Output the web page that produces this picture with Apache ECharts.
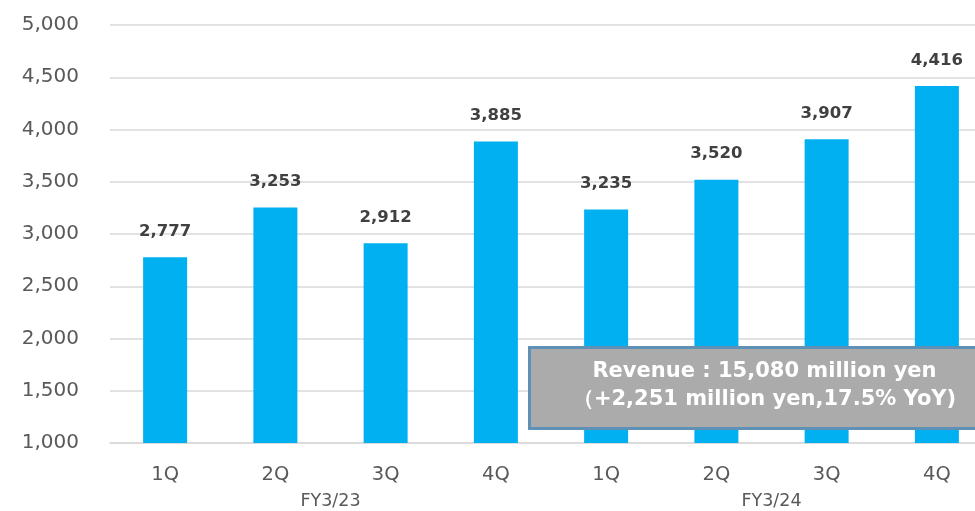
<!DOCTYPE html>
<html>
<head>
<meta charset="utf-8">
<script src="https://cdn.jsdelivr.net/npm/echarts@6/dist/echarts.min.js"></script>
<style>
  html, body { margin: 0; padding: 0; background: #fff; }
  #chart { width: 975px; height: 511px; }
</style>
</head>
<body>
<div id="chart"></div>
<script>
// Quarterly revenue (million yen)
const quarters = ['1Q', '2Q', '3Q', '4Q', '1Q', '2Q', '3Q', '4Q'];
const fiscalYears = ['FY3/23', 'FY3/24'];
const revenue = [2777, 3253, 2912, 3885, 3235, 3520, 3907, 4416];
const yTicks = { min: 1000, max: 5000, step: 500 };
const summaryLines = ['Revenue : 15,080 million yen', '（+2,251 million yen,17.5% YoY)'];

const FONT = '"DejaVu Sans", Verdana, sans-serif';
const chart = echarts.init(document.getElementById('chart'));

chart.setOption({
  animation: false,
  backgroundColor: '#ffffff',
  // plot area runs a little past the right edge of the canvas
  grid: { left: 110, width: 882, top: 25, bottom: 68, outerBoundsMode: 'none', containLabel: false },
  xAxis: [
    {
      type: 'category',
      data: quarters,
      axisLine: { show: true, lineStyle: { color: '#d9d9d9', width: 1.5 } },
      axisTick: { show: false },
      axisLabel: { color: '#595959', fontFamily: FONT, fontSize: 19.5, margin: 22 }
    },
    {
      type: 'category',
      data: fiscalYears,
      position: 'bottom',
      offset: 48,
      axisLine: { show: false },
      axisTick: { show: false },
      axisLabel: { color: '#595959', fontFamily: FONT, fontSize: 17.5, margin: 1 }
    }
  ],
  yAxis: {
    type: 'value',
    min: yTicks.min,
    max: yTicks.max,
    interval: yTicks.step,
    axisLine: { show: false },
    axisTick: { show: false },
    splitLine: { lineStyle: { color: '#d9d9d9', width: 1.5 } },
    axisLabel: {
      color: '#595959', fontFamily: FONT, fontSize: 20, margin: 31,
      formatter: v => v.toLocaleString('en-US')
    }
  },
  series: [{
    type: 'bar',
    xAxisIndex: 0,
    data: revenue,
    barWidth: 44,
    itemStyle: { color: '#00B0F0' },
    label: {
      show: true,
      position: 'top',
      distance: 17,
      color: '#404040',
      fontFamily: FONT,
      fontWeight: 'bold',
      fontSize: 16.5,
      formatter: p => p.value.toLocaleString('en-US')
    }
  }],
  graphic: [{
    type: 'group',
    left: 528,
    top: 346,
    z: 100,
    children: [
      {
        type: 'rect',
        z: 100,
        shape: { x: 0, y: 0, width: 460, height: 81 },
        style: { fill: '#ABABAB', stroke: '#5F90B5', lineWidth: 3 }
      },
      {
        type: 'text',
        z: 101,
        style: {
          x: 235, y: 24, text: summaryLines[0], align: 'center', verticalAlign: 'middle',
          fill: '#ffffff', font: 'bold 21px ' + FONT
        }
      },
      {
        type: 'text',
        z: 101,
        style: {
          x: 235, y: 52, text: summaryLines[1], align: 'center', verticalAlign: 'middle',
          fill: '#ffffff', font: 'bold 21px ' + FONT
        }
      }
    ]
  }]
});
</script>
</body>
</html>
